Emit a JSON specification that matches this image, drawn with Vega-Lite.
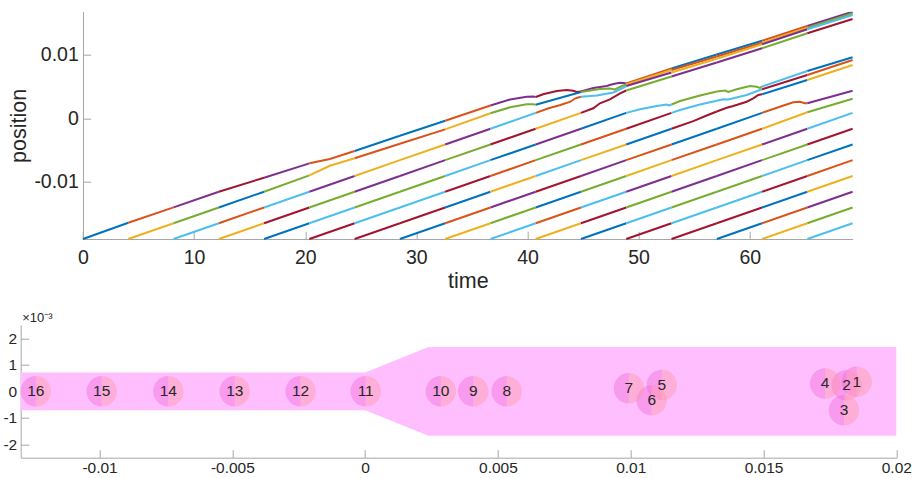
{
"$schema":"https://vega.github.io/schema/vega-lite/v6.json",
"autosize":{"type":"none"},
"padding":{"left":20.7,"top":11.7,"right":16,"bottom":20.3},
"width":875.6,"height":446,
"config":{"font":"Liberation Sans","view":{"stroke":null},
"axis":{"domainColor":"#a6a6a6","tickColor":"#a6a6a6","labelColor":"#262626","titleColor":"#262626","titleFontWeight":"normal","labelFlush":false,"labelOverlap":false,"zindex":1}},
"datasets":{
"gridT":[{"t":10},{"t":20},{"t":30},{"t":40},{"t":50},{"t":60}],
"gridY":[{"y":-0.01},{"y":0},{"y":0.01}],
"traj":[
{"n":0,"t":0,"y":-0.01911},{"n":0,"t":4.074,"y":-0.01653},
{"n":1,"t":4.074,"y":-0.01653},{"n":1,"t":8.148,"y":-0.0141},
{"n":2,"t":4.074,"y":-0.01911},{"n":2,"t":8.148,"y":-0.01662},
{"n":3,"t":8.148,"y":-0.0141},{"n":3,"t":12.222,"y":-0.01163},
{"n":4,"t":8.148,"y":-0.01662},{"n":4,"t":12.222,"y":-0.01412},
{"n":5,"t":8.148,"y":-0.01911},{"n":5,"t":12.222,"y":-0.01662},
{"n":6,"t":12.222,"y":-0.01163},{"n":6,"t":16.296,"y":-0.00941},
{"n":7,"t":12.222,"y":-0.01412},{"n":7,"t":16.296,"y":-0.01163},
{"n":8,"t":12.222,"y":-0.01662},{"n":8,"t":16.296,"y":-0.01412},
{"n":9,"t":12.222,"y":-0.01911},{"n":9,"t":16.296,"y":-0.01662},
{"n":10,"t":16.296,"y":-0.00941},{"n":10,"t":20.37,"y":-0.00714},
{"n":11,"t":16.296,"y":-0.01163},{"n":11,"t":20.37,"y":-0.00905},
{"n":12,"t":16.296,"y":-0.01412},{"n":12,"t":20.37,"y":-0.01163},
{"n":13,"t":16.296,"y":-0.01662},{"n":13,"t":20.37,"y":-0.01412},
{"n":14,"t":16.296,"y":-0.01911},{"n":14,"t":20.37,"y":-0.01662},
{"n":15,"t":20.37,"y":-0.00714},{"n":15,"t":22.22,"y":-0.00646},{"n":15,"t":24.444,"y":-0.00519},
{"n":16,"t":20.37,"y":-0.00905},{"n":16,"t":22.22,"y":-0.00752},{"n":16,"t":24.444,"y":-0.00634},
{"n":17,"t":20.37,"y":-0.01163},{"n":17,"t":24.444,"y":-0.00914},
{"n":18,"t":20.37,"y":-0.01412},{"n":18,"t":24.444,"y":-0.01163},
{"n":19,"t":20.37,"y":-0.01662},{"n":19,"t":24.444,"y":-0.01412},
{"n":20,"t":20.37,"y":-0.01911},{"n":20,"t":24.444,"y":-0.01662},
{"n":21,"t":24.444,"y":-0.00519},{"n":21,"t":28.518,"y":-0.00278},
{"n":22,"t":24.444,"y":-0.00634},{"n":22,"t":28.518,"y":-0.00405},
{"n":23,"t":24.444,"y":-0.00914},{"n":23,"t":28.518,"y":-0.00664},
{"n":24,"t":24.444,"y":-0.01163},{"n":24,"t":28.518,"y":-0.00914},
{"n":25,"t":24.444,"y":-0.01412},{"n":25,"t":28.518,"y":-0.01163},
{"n":26,"t":24.444,"y":-0.01662},{"n":26,"t":28.518,"y":-0.01412},
{"n":27,"t":24.444,"y":-0.01911},{"n":27,"t":28.518,"y":-0.01662},
{"n":28,"t":28.518,"y":-0.00278},{"n":28,"t":32.592,"y":-0.0004},
{"n":29,"t":28.518,"y":-0.00405},{"n":29,"t":32.592,"y":-0.00176},
{"n":30,"t":28.518,"y":-0.00664},{"n":30,"t":32.592,"y":-0.00415},
{"n":31,"t":28.518,"y":-0.00914},{"n":31,"t":32.592,"y":-0.00664},
{"n":32,"t":28.518,"y":-0.01163},{"n":32,"t":32.592,"y":-0.00914},
{"n":33,"t":28.518,"y":-0.01412},{"n":33,"t":32.592,"y":-0.01163},
{"n":34,"t":28.518,"y":-0.01662},{"n":34,"t":32.592,"y":-0.01412},
{"n":35,"t":28.518,"y":-0.01911},{"n":35,"t":32.592,"y":-0.01662},
{"n":36,"t":32.592,"y":-0.0004},{"n":36,"t":36.666,"y":0.00201},
{"n":37,"t":32.592,"y":-0.00176},{"n":37,"t":36.666,"y":0.00078},
{"n":38,"t":32.592,"y":-0.00415},{"n":38,"t":36.666,"y":-0.00166},
{"n":39,"t":32.592,"y":-0.00664},{"n":39,"t":36.666,"y":-0.00415},
{"n":40,"t":32.592,"y":-0.00914},{"n":40,"t":36.666,"y":-0.00664},
{"n":41,"t":32.592,"y":-0.01163},{"n":41,"t":36.666,"y":-0.00914},
{"n":42,"t":32.592,"y":-0.01412},{"n":42,"t":36.666,"y":-0.01163},
{"n":43,"t":32.592,"y":-0.01662},{"n":43,"t":36.666,"y":-0.01412},
{"n":44,"t":32.592,"y":-0.01911},{"n":44,"t":36.666,"y":-0.01662},
{"n":45,"t":36.666,"y":0.00201},{"n":45,"t":38.43,"y":0.00296},{"n":45,"t":39.93,"y":0.0034},{"n":45,"t":40.5,"y":0.00343},{"n":45,"t":40.74,"y":0.00335},
{"n":46,"t":36.666,"y":0.00078},{"n":46,"t":38.43,"y":0.00172},{"n":46,"t":39.93,"y":0.0022},{"n":46,"t":40.52,"y":0.0022},{"n":46,"t":40.74,"y":0.00212},
{"n":47,"t":36.666,"y":-0.00166},{"n":47,"t":40.74,"y":0.00084},
{"n":48,"t":36.666,"y":-0.00415},{"n":48,"t":40.74,"y":-0.00166},
{"n":49,"t":36.666,"y":-0.00664},{"n":49,"t":40.74,"y":-0.00415},
{"n":50,"t":36.666,"y":-0.00914},{"n":50,"t":40.74,"y":-0.00664},
{"n":51,"t":36.666,"y":-0.01163},{"n":51,"t":40.74,"y":-0.00914},
{"n":52,"t":36.666,"y":-0.01412},{"n":52,"t":40.74,"y":-0.01163},
{"n":53,"t":36.666,"y":-0.01662},{"n":53,"t":40.74,"y":-0.01412},
{"n":54,"t":36.666,"y":-0.01911},{"n":54,"t":40.74,"y":-0.01662},
{"n":55,"t":40.74,"y":0.00335},{"n":55,"t":41.41,"y":0.00378},{"n":55,"t":42.63,"y":0.0043},{"n":55,"t":43.53,"y":0.00446},{"n":55,"t":44.12,"y":0.00435},{"n":55,"t":44.43,"y":0.00415},{"n":55,"t":44.814,"y":0.00422},
{"n":56,"t":40.74,"y":0.00212},{"n":56,"t":44.814,"y":0.00415},
{"n":57,"t":40.74,"y":0.00084},{"n":57,"t":41.91,"y":0.00157},{"n":57,"t":42.96,"y":0.00209},{"n":57,"t":43.86,"y":0.00261},{"n":57,"t":44.31,"y":0.00315},{"n":57,"t":44.814,"y":0.0034},
{"n":58,"t":40.74,"y":-0.00166},{"n":58,"t":44.814,"y":0.00084},
{"n":59,"t":40.74,"y":-0.00415},{"n":59,"t":44.814,"y":-0.00166},
{"n":60,"t":40.74,"y":-0.00664},{"n":60,"t":44.814,"y":-0.00415},
{"n":61,"t":40.74,"y":-0.00914},{"n":61,"t":44.814,"y":-0.00664},
{"n":62,"t":40.74,"y":-0.01163},{"n":62,"t":44.814,"y":-0.00914},
{"n":63,"t":40.74,"y":-0.01412},{"n":63,"t":44.814,"y":-0.01163},
{"n":64,"t":40.74,"y":-0.01662},{"n":64,"t":44.814,"y":-0.01412},
{"n":65,"t":40.74,"y":-0.01911},{"n":65,"t":44.814,"y":-0.01662},
{"n":66,"t":44.814,"y":0.00422},{"n":66,"t":45.92,"y":0.00478},{"n":66,"t":47.13,"y":0.00509},{"n":66,"t":47.72,"y":0.00541},{"n":66,"t":48.33,"y":0.00562},{"n":66,"t":48.62,"y":0.00557},{"n":66,"t":48.888,"y":0.00549},
{"n":67,"t":44.814,"y":0.00415},{"n":67,"t":46.52,"y":0.00462},{"n":67,"t":47.42,"y":0.0047},{"n":67,"t":47.87,"y":0.00454},{"n":67,"t":48.5,"y":0.00509},{"n":67,"t":48.888,"y":0.00533},
{"n":68,"t":44.814,"y":0.0034},{"n":68,"t":46.23,"y":0.00359},{"n":68,"t":47.72,"y":0.00407},{"n":68,"t":48.48,"y":0.0047},{"n":68,"t":48.888,"y":0.00509},
{"n":69,"t":44.814,"y":0.00084},{"n":69,"t":45.92,"y":0.00157},{"n":69,"t":46.52,"y":0.00236},{"n":69,"t":47.42,"y":0.00299},{"n":69,"t":48.33,"y":0.00394},{"n":69,"t":48.888,"y":0.00438},
{"n":70,"t":44.814,"y":-0.00166},{"n":70,"t":48.888,"y":0.00084},
{"n":71,"t":44.814,"y":-0.00415},{"n":71,"t":48.888,"y":-0.00166},
{"n":72,"t":44.814,"y":-0.00664},{"n":72,"t":48.888,"y":-0.00415},
{"n":73,"t":44.814,"y":-0.00914},{"n":73,"t":48.888,"y":-0.00664},
{"n":74,"t":44.814,"y":-0.01163},{"n":74,"t":48.888,"y":-0.00914},
{"n":75,"t":44.814,"y":-0.01412},{"n":75,"t":48.888,"y":-0.01163},
{"n":76,"t":44.814,"y":-0.01662},{"n":76,"t":48.888,"y":-0.01412},
{"n":77,"t":44.814,"y":-0.01911},{"n":77,"t":48.888,"y":-0.01662},
{"n":78,"t":48.888,"y":0.00549},{"n":78,"t":52.962,"y":0.00786},
{"n":79,"t":48.888,"y":0.00533},{"n":79,"t":52.962,"y":0.00763},
{"n":80,"t":48.888,"y":0.00509},{"n":80,"t":52.962,"y":0.00723},
{"n":81,"t":48.888,"y":0.00438},{"n":81,"t":52.962,"y":0.0066},
{"n":82,"t":48.888,"y":0.00084},{"n":82,"t":50.13,"y":0.00141},{"n":82,"t":51.63,"y":0.00193},{"n":82,"t":52.53,"y":0.00217},{"n":82,"t":52.74,"y":0.00201},{"n":82,"t":52.962,"y":0.00217},
{"n":83,"t":48.888,"y":-0.00166},{"n":83,"t":52.962,"y":0.00084},
{"n":84,"t":48.888,"y":-0.00415},{"n":84,"t":52.962,"y":-0.00166},
{"n":85,"t":48.888,"y":-0.00664},{"n":85,"t":52.962,"y":-0.00415},
{"n":86,"t":48.888,"y":-0.00914},{"n":86,"t":52.962,"y":-0.00664},
{"n":87,"t":48.888,"y":-0.01163},{"n":87,"t":52.962,"y":-0.00914},
{"n":88,"t":48.888,"y":-0.01412},{"n":88,"t":52.962,"y":-0.01163},
{"n":89,"t":48.888,"y":-0.01662},{"n":89,"t":52.962,"y":-0.01412},
{"n":90,"t":48.888,"y":-0.01911},{"n":90,"t":52.962,"y":-0.01662},
{"n":91,"t":52.962,"y":0.00786},{"n":91,"t":57.036,"y":0.01008},
{"n":92,"t":52.962,"y":0.00763},{"n":92,"t":57.036,"y":0.00976},
{"n":93,"t":52.962,"y":0.00723},{"n":93,"t":57.036,"y":0.0094},
{"n":94,"t":52.962,"y":0.0066},{"n":94,"t":57.036,"y":0.00881},
{"n":95,"t":52.962,"y":0.00217},{"n":95,"t":53.73,"y":0.00272},{"n":95,"t":55.53,"y":0.00359},{"n":95,"t":57.036,"y":0.00422},
{"n":96,"t":52.962,"y":0.00084},{"n":96,"t":53.73,"y":0.0013},{"n":96,"t":55.53,"y":0.00217},{"n":96,"t":57.036,"y":0.00275},
{"n":97,"t":52.962,"y":-0.00166},{"n":97,"t":54.92,"y":-0.00046},{"n":97,"t":56.13,"y":0.00043},{"n":97,"t":57.036,"y":0.00106},
{"n":98,"t":52.962,"y":-0.00415},{"n":98,"t":57.036,"y":-0.00166},
{"n":99,"t":52.962,"y":-0.00664},{"n":99,"t":57.036,"y":-0.00415},
{"n":100,"t":52.962,"y":-0.00914},{"n":100,"t":57.036,"y":-0.00664},
{"n":101,"t":52.962,"y":-0.01163},{"n":101,"t":57.036,"y":-0.00914},
{"n":102,"t":52.962,"y":-0.01412},{"n":102,"t":57.036,"y":-0.01163},
{"n":103,"t":52.962,"y":-0.01662},{"n":103,"t":57.036,"y":-0.01412},
{"n":104,"t":52.962,"y":-0.01911},{"n":104,"t":57.036,"y":-0.01662},
{"n":105,"t":57.036,"y":0.01008},{"n":105,"t":61.11,"y":0.01226},
{"n":106,"t":57.036,"y":0.00976},{"n":106,"t":61.11,"y":0.01195},
{"n":107,"t":57.036,"y":0.0094},{"n":107,"t":61.11,"y":0.01169},
{"n":108,"t":57.036,"y":0.00881},{"n":108,"t":61.11,"y":0.01106},
{"n":109,"t":57.036,"y":0.00422},{"n":109,"t":57.78,"y":0.00438},{"n":109,"t":58.07,"y":0.00415},{"n":109,"t":58.83,"y":0.00457},{"n":109,"t":60.02,"y":0.00509},{"n":109,"t":60.63,"y":0.00497},{"n":109,"t":60.92,"y":0.00478},{"n":109,"t":61.11,"y":0.00502},
{"n":110,"t":57.036,"y":0.00275},{"n":110,"t":57.62,"y":0.00299},{"n":110,"t":58.07,"y":0.00296},{"n":110,"t":59.73,"y":0.00367},{"n":110,"t":60.92,"y":0.00446},{"n":110,"t":61.11,"y":0.00457},
{"n":111,"t":57.036,"y":0.00106},{"n":111,"t":57.93,"y":0.00166},{"n":111,"t":58.52,"y":0.00193},{"n":111,"t":59.73,"y":0.00261},{"n":111,"t":60.32,"y":0.00315},{"n":111,"t":60.77,"y":0.00367},{"n":111,"t":61.11,"y":0.00378},
{"n":112,"t":57.036,"y":-0.00166},{"n":112,"t":61.11,"y":0.00084},
{"n":113,"t":57.036,"y":-0.00415},{"n":113,"t":61.11,"y":-0.00166},
{"n":114,"t":57.036,"y":-0.00664},{"n":114,"t":61.11,"y":-0.00415},
{"n":115,"t":57.036,"y":-0.00914},{"n":115,"t":61.11,"y":-0.00664},
{"n":116,"t":57.036,"y":-0.01163},{"n":116,"t":61.11,"y":-0.00914},
{"n":117,"t":57.036,"y":-0.01412},{"n":117,"t":61.11,"y":-0.01163},
{"n":118,"t":57.036,"y":-0.01662},{"n":118,"t":61.11,"y":-0.01412},
{"n":119,"t":57.036,"y":-0.01911},{"n":119,"t":61.11,"y":-0.01662},
{"n":120,"t":61.11,"y":0.01226},{"n":120,"t":65.184,"y":0.01459},
{"n":121,"t":61.11,"y":0.01195},{"n":121,"t":65.184,"y":0.01432},
{"n":122,"t":61.11,"y":0.01169},{"n":122,"t":65.184,"y":0.01407},
{"n":123,"t":61.11,"y":0.01106},{"n":123,"t":65.184,"y":0.01343},
{"n":124,"t":61.11,"y":0.00502},{"n":124,"t":65.184,"y":0.00747},
{"n":125,"t":61.11,"y":0.00457},{"n":125,"t":65.184,"y":0.00684},
{"n":126,"t":61.11,"y":0.00378},{"n":126,"t":65.184,"y":0.00604},
{"n":127,"t":61.11,"y":0.00084},{"n":127,"t":63.18,"y":0.00209},{"n":127,"t":63.92,"y":0.00252},{"n":127,"t":64.52,"y":0.00261},{"n":127,"t":64.97,"y":0.00236},{"n":127,"t":65.184,"y":0.00236},
{"n":128,"t":61.11,"y":-0.00166},{"n":128,"t":65.184,"y":0.00095},
{"n":129,"t":61.11,"y":-0.00415},{"n":129,"t":65.184,"y":-0.00166},
{"n":130,"t":61.11,"y":-0.00664},{"n":130,"t":65.184,"y":-0.00415},
{"n":131,"t":61.11,"y":-0.00914},{"n":131,"t":65.184,"y":-0.00664},
{"n":132,"t":61.11,"y":-0.01163},{"n":132,"t":65.184,"y":-0.00914},
{"n":133,"t":61.11,"y":-0.01412},{"n":133,"t":65.184,"y":-0.01163},
{"n":134,"t":61.11,"y":-0.01662},{"n":134,"t":65.184,"y":-0.01412},
{"n":135,"t":61.11,"y":-0.01911},{"n":135,"t":65.184,"y":-0.01662},
{"n":136,"t":65.184,"y":0.01459},{"n":136,"t":69.258,"y":0.01685},
{"n":137,"t":65.184,"y":0.01432},{"n":137,"t":69.258,"y":0.0166},
{"n":138,"t":65.184,"y":0.01407},{"n":138,"t":69.258,"y":0.01633},
{"n":139,"t":65.184,"y":0.01343},{"n":139,"t":69.258,"y":0.0157},
{"n":140,"t":65.184,"y":0.00747},{"n":140,"t":69.258,"y":0.00964},
{"n":141,"t":65.184,"y":0.00684},{"n":141,"t":69.258,"y":0.00921},
{"n":142,"t":65.184,"y":0.00604},{"n":142,"t":69.258,"y":0.00842},
{"n":143,"t":65.184,"y":0.00236},{"n":143,"t":69.258,"y":0.00435},
{"n":144,"t":65.184,"y":0.00095},{"n":144,"t":69.258,"y":0.00309},
{"n":145,"t":65.184,"y":-0.00166},{"n":145,"t":69.258,"y":0.00084},
{"n":146,"t":65.184,"y":-0.00415},{"n":146,"t":69.258,"y":-0.00166},
{"n":147,"t":65.184,"y":-0.00664},{"n":147,"t":69.258,"y":-0.00415},
{"n":148,"t":65.184,"y":-0.00914},{"n":148,"t":69.258,"y":-0.00664},
{"n":149,"t":65.184,"y":-0.01163},{"n":149,"t":69.258,"y":-0.00914},
{"n":150,"t":65.184,"y":-0.01412},{"n":150,"t":69.258,"y":-0.01163},
{"n":151,"t":65.184,"y":-0.01662},{"n":151,"t":69.258,"y":-0.01412},
{"n":152,"t":65.184,"y":-0.01911},{"n":152,"t":69.258,"y":-0.01662}
],
"channel":[
{"x":-0.01297,"y":0.00071,"y2":-0.00071},
{"x":0,"y":0.00071,"y2":-0.00071},
{"x":0.00238,"y":0.00167,"y2":-0.00167},
{"x":0.02,"y":0.00167,"y2":-0.00167}
],
"balls":[
{"id":"16","x":-0.0124,"y":0},
{"id":"15","x":-0.00992,"y":0},
{"id":"14","x":-0.00741,"y":0},
{"id":"13","x":-0.00491,"y":0},
{"id":"12","x":-0.00243,"y":0},
{"id":"11","x":0.00002,"y":0},
{"id":"10","x":0.00285,"y":0},
{"id":"9","x":0.00407,"y":0},
{"id":"8","x":0.00533,"y":0},
{"id":"7","x":0.00993,"y":0.000113},
{"id":"6","x":0.01079,"y":-0.00034},
{"id":"5","x":0.01117,"y":0.000237},
{"id":"4","x":0.01732,"y":0.0003},
{"id":"3","x":0.01803,"y":-0.000716},
{"id":"2","x":0.01813,"y":0.000226},
{"id":"1","x":0.01851,"y":0.000365}
]
},
"layer":[
{
"encoding":{
"x":{"field":"t","type":"quantitative","scale":{"domain":[0,69.258],"nice":false,"zero":false,"range":[62.3,831.9]},
"axis":{"orient":"bottom","offset":-218.7,"title":"time","values":[0,10,20,30,40,50,60],"labelExpr":"''+datum.value","grid":false,"tickSize":-7.7,"labelPadding":17,"labelFontSize":19.5,"titleFontSize":21.5,"titlePadding":4}},
"y":{"field":"y","type":"quantitative","scale":{"domain":[-0.01911,0.01685],"nice":false,"zero":false,"range":[227.3,0]},
"axis":{"orient":"left","offset":-62.3,"title":"position","values":[-0.01,0,0.01],"labelExpr":"''+datum.value","grid":false,"tickSize":-7.7,"labelPadding":12.4,"labelFontSize":19.5,"titleFontSize":21.5,"titlePadding":3}}
},
"layer":[
{"data":{"name":"gridT"},"mark":{"type":"rule","color":"#e8e8e8","strokeWidth":1},
"encoding":{"y":{"datum":-0.01911},"y2":{"datum":0.01685}}},
{"data":{"name":"gridY"},"mark":{"type":"rule","color":"#e8e8e8","strokeWidth":1},
"encoding":{"x":{"datum":0},"x2":{"datum":69.258}}},
{"data":{"name":"traj"},"mark":{"type":"line","strokeWidth":2,"clip":true},
"encoding":{
"color":{"field":"n","type":"ordinal","scale":{"range":["#0072BD","#D95319","#EDB120","#7E2F8E","#77AC30","#4DBEEE","#A2142F"]},"legend":null}
}}
]
},
{
"encoding":{
"x":{"field":"x","type":"quantitative","scale":{"domain":[-0.01297,0.02],"nice":false,"zero":false,"range":[0,875.6]},
"axis":{"orient":"bottom","title":null,"values":[-0.01,-0.005,0,0.005,0.01,0.015,0.02],"labelExpr":"''+datum.value","grid":false,"tickSize":-8,"labelPadding":11,"labelFontSize":15.5}},
"y":{"field":"y","type":"quantitative","scale":{"domain":[-0.0025,0.0025],"nice":false,"zero":false,"range":[446,313.3]},
"axis":{"orient":"left","title":"×10⁻³","titleAngle":0,"titleAlign":"left","titleBaseline":"alphabetic","titleX":1,"titleY":310.3,"titleFontSize":13,"values":[-0.002,-0.001,0,0.001,0.002],"labelExpr":"''+round(datum.value*1000)","grid":false,"tickSize":-8,"labelPadding":12,"labelFontSize":15.5}}
},
"layer":[
{"data":{"name":"channel"},"mark":{"type":"area","color":"#FFBFFF","opacity":1},"encoding":{"y2":{"field":"y2"}}},
{"data":{"name":"balls"},"mark":{"type":"point","shape":"M0,-1A1,1,0,0,0,0,1Z","filled":true,"size":930,"color":"#F06CD6","opacity":0.45,"strokeWidth":0}},
{"data":{"name":"balls"},"mark":{"type":"point","shape":"M0,-1A1,1,0,0,1,0,1Z","filled":true,"size":930,"color":"#FF98A8","opacity":0.45,"strokeWidth":0}},
{"data":{"name":"balls"},"mark":{"type":"text","fontSize":15.5,"color":"#262626"},"encoding":{"text":{"field":"id"}}}
]
}
],
"resolve":{"scale":{"x":"independent","y":"independent","color":"independent"},"axis":{"x":"independent","y":"independent"}}
}
